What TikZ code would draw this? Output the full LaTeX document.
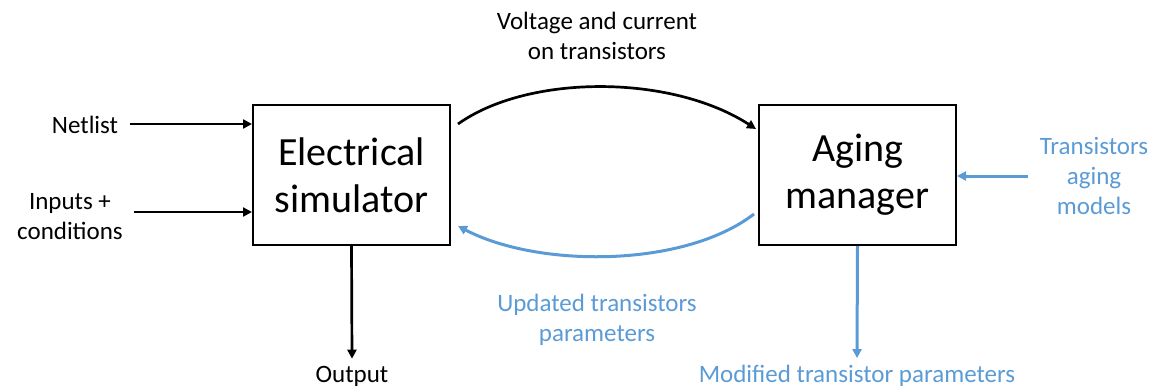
\documentclass[tikz,border=0pt]{standalone}
\usepackage{fontspec}
\setmainfont{Carlito}
\usetikzlibrary{arrows.meta,calc}
\definecolor{accblue}{HTML}{5B9BD5}
\begin{document}
\begin{tikzpicture}[x=1pt,y=-1pt,
  block/.style={draw,line width=2pt,minimum width=197pt,minimum height=140pt,
    align=center,font=\fontsize{40}{47}\selectfont,inner sep=0pt},
  lbl/.style={align=center,font=\fontsize{25}{30}\selectfont,inner sep=2pt},
  blk/.style={line width=2.7pt,-{Triangle[length=9pt,width=9pt]}},
  blu/.style={line width=3pt,accblue,-{Triangle[length=9pt,width=9pt]}},
]
\useasboundingbox (0,0) rectangle (1156,389);
\node[block] (es) at (351.5,175) {Electrical\\simulator};
\node[block] (am) at (857.5,175) {Aging\\manager};
\node[lbl] (net) at (85,125) {Netlist};
\node[lbl] (inp) at (70,217) {Inputs +\\conditions};
\node[lbl] (vc) at (597,36) {Voltage and current\\on transistors};
\node[lbl,text=accblue] (upd) at (597,320) {Updated transistors\\parameters};
\node[lbl] (out) at (352,376) {Output};
\node[lbl,text=accblue] (mod) at (857,376) {Modified transistor parameters};
\node[lbl,text=accblue] (tam) at (1094,176) {Transistors\\aging\\models};
\coordinate (vcs) at ($(es.north east)+(7,20)$);
\coordinate (vce) at ($(am.north west)+(-2,25)$);
\coordinate (ups) at ($(am.south west)+(-4,-32)$);
\coordinate (upe) at ($(es.south east)+(7,-20)$);
\draw[blk] ($(net.east)+(10,-1)$) -- ($(net.east -| es.west)+(0,-1)$);
\draw[blk] ($(inp.east)+(9,-5)$) -- ($(inp.east -| es.west)+(0,-5)$);
\draw[blk] (vcs) .. controls ($(vcs)+(70,-50)$) and ($(vce)+(-85,-55)$) .. (vce);
\draw[blu] (ups) .. controls ($(ups)+(-70,54)$) and ($(upe)+(80,42)$) .. (upe);
\draw[blk] (es.south) -- ($(out.north)+(0,-5)$);
\draw[blu] (am.south) -- ($(mod.north)+(0,-5)$);
\draw[blu] ($(tam.west)+(-10,0)$) -- (tam.west -| am.east);
\end{tikzpicture}
\end{document}
